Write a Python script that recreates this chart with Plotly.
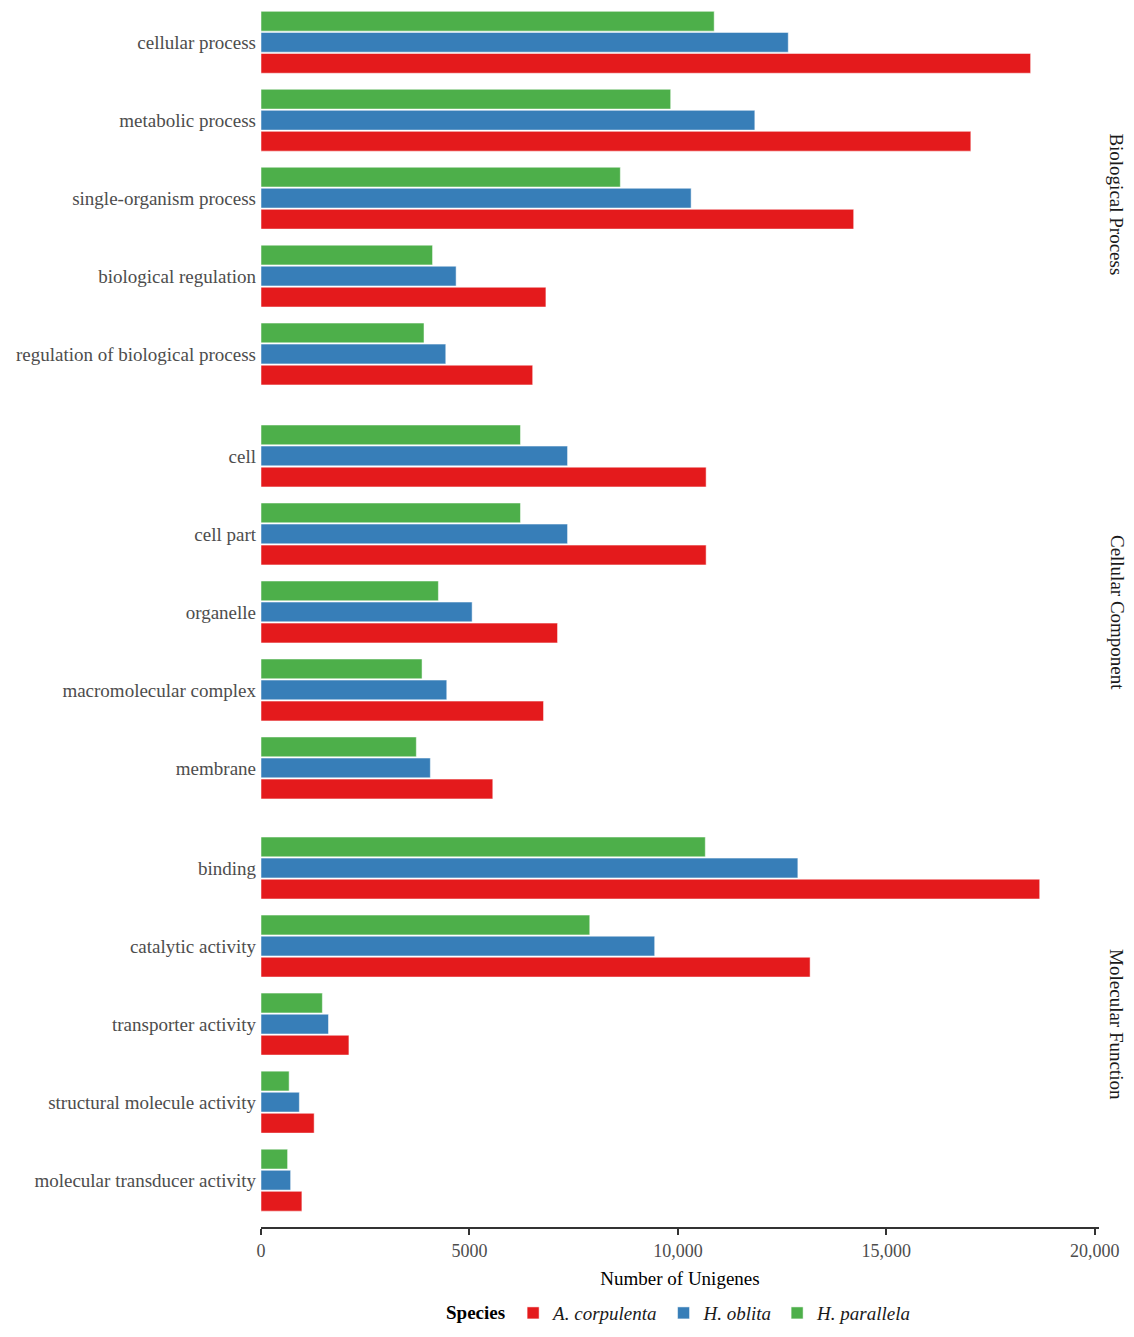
import plotly.graph_objects as go
from plotly.subplots import make_subplots

# categories per facet (top to bottom)
bp_terms = ['cellular process', 'metabolic process', 'single-organism process',
            'biological regulation', 'regulation of biological process']
cc_terms = ['cell', 'cell part', 'organelle', 'macromolecular complex', 'membrane']
mf_terms = ['binding', 'catalytic activity', 'transporter activity',
            'structural molecule activity', 'molecular transducer activity']
facets = ['Biological Process', 'Cellular Component', 'Molecular Function']

# number of unigenes
a_corpulenta_bp = [18460, 17026, 14216, 6834, 6517]
a_corpulenta_cc = [10677, 10677, 7113, 6777, 5560]
a_corpulenta_mf = [18678, 13171, 2109, 1275, 981]

h_oblita_bp = [12647, 11845, 10317, 4680, 4432]
h_oblita_cc = [7353, 7353, 5064, 4456, 4062]
h_oblita_mf = [12877, 9443, 1619, 920, 711]

h_parallela_bp = [10870, 9827, 8619, 4115, 3910]
h_parallela_cc = [6224, 6224, 4255, 3863, 3726]
h_parallela_mf = [10657, 7886, 1472, 675, 638]

species = ['A. corpulenta', 'H. oblita', 'H. parallela']
colors = ['#E41A1C', '#377EB8', '#4DAF4A']

x_ticks = [0, 5000, 10000, 15000, 20000]
x_ticktext = ['0', '5000', '10,000', '15,000', '20,000']

terms = [bp_terms, cc_terms, mf_terms]
values = {
    'A. corpulenta': [a_corpulenta_bp, a_corpulenta_cc, a_corpulenta_mf],
    'H. oblita': [h_oblita_bp, h_oblita_cc, h_oblita_mf],
    'H. parallela': [h_parallela_bp, h_parallela_cc, h_parallela_mf],
}

fig = make_subplots(rows=3, cols=1, shared_xaxes=True, vertical_spacing=0.006)

# 그룹 안에서 위쪽부터 green, blue, red 순서로 그리기
for row in range(3):
    for i in [2, 1, 0]:
        sp = species[i]
        fig.add_trace(go.Bar(y=terms[row],
                             x=values[sp][row],
                             name='<i>' + sp + '</i>',
                             orientation='h',
                             marker=dict(color=colors[i],
                                         line=dict(color='rgba(255,255,255,0.5)', width=1)),
                             legendgroup=sp,
                             legendrank=i + 1,
                             showlegend=(row == 0)),
                      row=row + 1, col=1)

font_family = 'Liberation Serif, Times New Roman, serif'

# 패널 위치 (위쪽 패널은 상단이 살짝 잘린 형태)
domains = [[0.6778, 1.0], [0.3382, 0.6709], [0.0, 0.3329]]
ranges = [[4.6, -0.44], [4.6, -0.6], [4.6, -0.6]]

for row in range(3):
    fig.update_yaxes(categoryorder='array', categoryarray=terms[row],
                     range=ranges[row], domain=domains[row], automargin=False,
                     showgrid=False, showline=False, ticks='',
                     ticklabelstandoff=4,
                     tickfont=dict(family=font_family, size=19, color='#4D4D4D'),
                     row=row + 1, col=1)
    # facet 라벨
    yref = 'y domain' if row == 0 else 'y%d domain' % (row + 1)
    fig.add_annotation(text=facets[row], textangle=90,
                       xref='paper', yref=yref, x=1, y=0.5,
                       xshift=18, xanchor='center', yanchor='middle',
                       showarrow=False,
                       font=dict(family=font_family, size=19, color='#1A1A1A'))

fig.update_xaxes(range=[0, 20100], showgrid=False, zeroline=False,
                 automargin=False,
                 tickvals=x_ticks, ticktext=x_ticktext)
fig.update_xaxes(showline=True, linecolor='#333333', linewidth=2,
                 ticks='outside', ticklen=6, tickwidth=1.5, tickcolor='#333333',
                 tickfont=dict(family=font_family, size=18, color='#4D4D4D'),
                 title=dict(text='Number of Unigenes', standoff=12,
                            font=dict(family=font_family, size=19, color='#000000')),
                 row=3, col=1)

fig.update_layout(width=1126, height=1329,
                  barmode='group', bargap=0.19, bargroupgap=0.06,
                  plot_bgcolor='white', paper_bgcolor='white',
                  margin=dict(l=253, r=35, t=0, b=110, autoexpand=False),
                  font=dict(family=font_family),
                  legend=dict(orientation='h', x=0.5, xanchor='center',
                              y=-0.0706, yanchor='middle',
                              title=dict(text='<b>Species</b>', side='left',
                                         font=dict(family=font_family, size=19, color='#000000')),
                              font=dict(family=font_family, size=19, color='#1A1A1A'),
                              itemwidth=30))

fig.write_html("out.html")
